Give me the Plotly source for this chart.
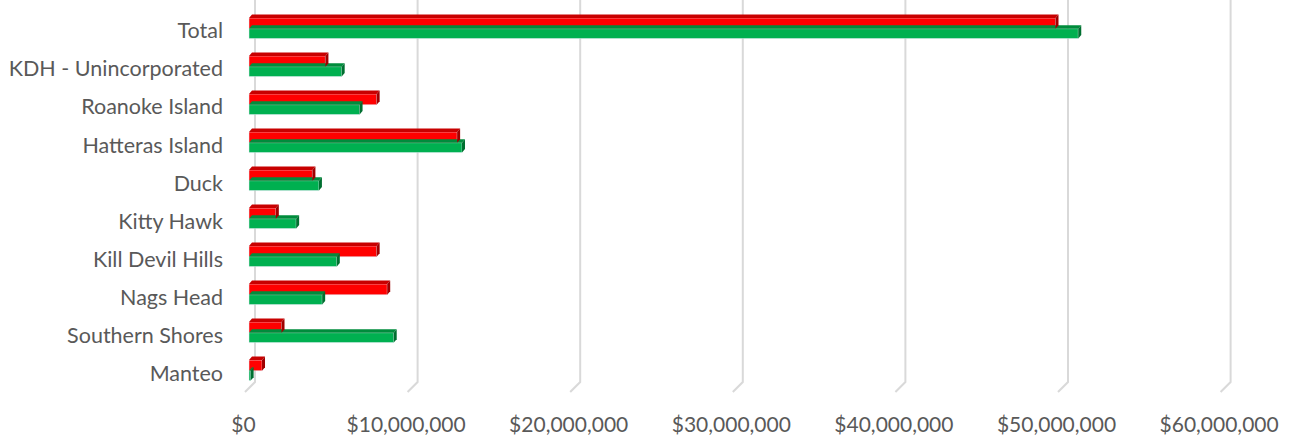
import plotly.graph_objects as go

# Category labels, top to bottom
categories = [
    "Total", "KDH - Unincorporated", "Roanoke Island", "Hatteras Island", "Duck",
    "Kitty Hawk", "Kill Devil Hills", "Nags Head", "Southern Shores", "Manteo",
]
# Series values (dollars)
red_values = [49.6e6, 4.7e6, 7.85e6, 12.8e6, 3.9e6, 1.65e6, 7.85e6, 8.5e6, 2.0e6, 0.8e6]
green_values = [51.0e6, 5.7e6, 6.8e6, 13.1e6, 4.3e6, 2.9e6, 5.4e6, 4.5e6, 8.9e6, 0.1e6]
tick_values = [0, 10e6, 20e6, 30e6, 40e6, 50e6, 60e6]
tick_labels = ["$0", "$10,000,000", "$20,000,000", "$30,000,000",
               "$40,000,000", "$50,000,000", "$60,000,000"]

W, H = 1291, 437
ML, MR, MT, MB = 236, 50, 8, 45
plot_w = W - ML - MR
plot_h = H - MT - MB
PX_PER_DOLLAR = 162.6 / 10e6


def axis_range(zero_px):
    """x range so that value 0 lands at pixel zero_px (page coordinates)."""
    lo = (ML - zero_px) / PX_PER_DOLLAR
    hi = (ML + plot_w - zero_px) / PX_PER_DOLLAR
    return [lo, hi]


RED, RED_TOP, RED_SIDE = "#ff0000", "#c80000", "#a00000"
GREEN, GREEN_TOP, GREEN_SIDE = "#00b050", "#008c3c", "#006f30"
GRID = "#d9d9d9"

RED_OFF, RED_W = -0.34, 0.28
GREEN_OFF, GREEN_W = -0.06, 0.26
DX = 3 / PX_PER_DOLLAR   # depth, horizontal
DY = 3.5 / 38.4          # depth, vertical (category units)

fig = go.Figure()
fig.add_trace(go.Bar(
    y=categories, x=red_values, orientation="h", marker_color=RED,
    offset=RED_OFF, width=RED_W, showlegend=False, xaxis="x",
))
fig.add_trace(go.Bar(
    y=categories, x=green_values, orientation="h", marker_color=GREEN,
    offset=GREEN_OFF, width=GREEN_W, showlegend=False, xaxis="x",
))

shapes = []
# Back-wall gridlines with the short floor segment at their foot
floor_y = 10 / plot_h
top_y = 1 + MT / plot_h
floor_dx = 10 / PX_PER_DOLLAR
for tv in tick_values:
    shapes.append(dict(
        type="path", xref="x2", yref="paper", layer="below",
        line=dict(color=GRID, width=2),
        path=f"M{tv},{top_y} L{tv},{floor_y} L{tv - floor_dx},0",
    ))

# Depth faces (top and right side) for the 3D look
for i, (rv, gv) in enumerate(zip(red_values, green_values)):
    for v, off, w, top_c, side_c in ((gv, GREEN_OFF, GREEN_W, GREEN_TOP, GREEN_SIDE),
                                     (rv, RED_OFF, RED_W, RED_TOP, RED_SIDE)):
        y_top = i + off
        y_bot = i + off + w
        shapes.append(dict(
            type="path", xref="x", yref="y", layer="above", line_width=0,
            fillcolor=top_c,
            path=f"M0,{y_top} L{v},{y_top} L{v + DX},{y_top - DY} L{DX},{y_top - DY} Z",
        ))
        shapes.append(dict(
            type="path", xref="x", yref="y", layer="above", line_width=0,
            fillcolor=side_c,
            path=f"M{v},{y_top} L{v + DX},{y_top - DY} L{v + DX},{y_bot - DY} L{v},{y_bot} Z",
        ))

fig.update_layout(
    width=W, height=H,
    margin=dict(l=ML, r=MR, t=MT, b=MB, autoexpand=False),
    paper_bgcolor="white", plot_bgcolor="white",
    barmode="overlay",
    shapes=shapes,
    font=dict(family="Lato, Carlito, Calibri, sans-serif", size=21, color="#595959"),
    yaxis=dict(
        categoryorder="array", categoryarray=categories, autorange="reversed",
        showgrid=False, zeroline=False, showline=False, ticks="",
        ticklabelstandoff=12, automargin=False,
        tickfont=dict(size=21.5, color="#595959"),
    ),
    # bar (front face) scale
    xaxis=dict(
        range=axis_range(249), showgrid=False, zeroline=False, showline=False,
        showticklabels=False, ticks="", automargin=False,
    ),
    # back-wall scale (gridlines)
    xaxis2=dict(
        range=axis_range(255), overlaying="x", side="bottom", automargin=False,
        showticklabels=False, ticks="", showgrid=False, zeroline=False,
    ),
    # tick labels
    xaxis3=dict(
        range=axis_range(243.5), overlaying="x", side="bottom", automargin=False,
        tickvals=tick_values, ticktext=tick_labels, ticks="",
        showgrid=False, zeroline=False,
        tickfont=dict(size=21, color="#595959"),
        ticklabelstandoff=18,
    ),
)
# Invisible anchors so the overlay axes are drawn
fig.add_trace(go.Scatter(x=[0], y=[categories[0]], xaxis="x2", mode="markers",
                         marker_opacity=0, showlegend=False, hoverinfo="skip"))
fig.add_trace(go.Scatter(x=[0], y=[categories[0]], xaxis="x3", mode="markers",
                         marker_opacity=0, showlegend=False, hoverinfo="skip"))

fig.write_html("out.html")
